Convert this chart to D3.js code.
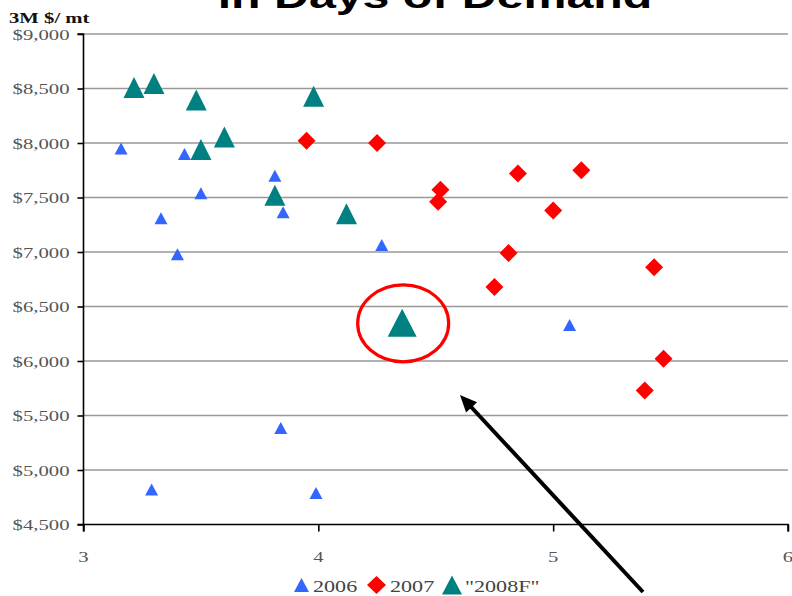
<!DOCTYPE html>
<html>
<head>
<meta charset="utf-8">
<script src="https://cdn.jsdelivr.net/npm/d3@7"></script>
<style>
  html, body { margin: 0; padding: 0; background: #fff; }
  svg { display: block; }
</style>
</head>
<body>
<svg id="chart" width="792" height="596"></svg>
<script>
// ---- Data ----
const x2006 = [3.16, 3.33, 3.40, 3.43, 3.50, 3.815, 3.85, 4.27, 5.07, 3.29, 3.84, 3.99];
const y2006 = [7950, 7310, 6980, 7900, 7540, 7700, 7365, 7065, 6330, 4820, 5385, 4790];
const x2007 = [3.95, 4.25, 4.52, 4.51, 4.85, 5.12, 5.00, 4.81, 4.75, 5.43, 5.47, 5.39];
const y2007 = [8020, 8000, 7570, 7460, 7720, 7750, 7380, 6990, 6680, 6860, 6020, 5730];
const x2008 = [3.215, 3.30, 3.48, 3.98, 3.50, 3.60, 3.815, 4.12, 4.357];
const y2008 = [8510, 8545, 8395, 8430, 7940, 8055, 7520, 7350, 6350];
const highlight2008 = [false, false, false, false, false, false, false, false, true];
const xTicks = [3, 4, 5, 6];
const yTicks = [4500, 5000, 5500, 6000, 6500, 7000, 7500, 8000, 8500, 9000];
const seriesNames = ["2006", "2007", "\"2008F\""];
const titleText = "in Days of Demand";
const yTitle = "3M $/ mt";

// ---- Layout ----
const svg = d3.select("#chart");
const X0 = 83.5, X1 = 788, Y0 = 524.5, Y1 = 34;
const SX = 1.38; // horizontal text stretch as in the reference
const x = d3.scaleLinear().domain([3, 6]).range([X0, X1]);
const y = d3.scaleLinear().domain([4500, 9000]).range([Y0, Y1]);
const serif = "'Liberation Serif','Times New Roman',serif";
const sans = "'Liberation Sans',Arial,sans-serif";

// Title (cut off at top, as in the reference)
svg.append("text")
  .attr("transform", `translate(435,8) scale(${SX},1)`)
  .attr("text-anchor", "middle")
  .attr("font-family", sans).attr("font-weight", "bold")
  .attr("font-size", 35).attr("fill", "#000")
  .text(titleText);

// Gridlines
svg.append("g").selectAll("line").data(yTicks.filter(d => d > 4500)).join("line")
  .attr("x1", X0).attr("x2", X1)
  .attr("y1", d => y(d)).attr("y2", d => y(d))
  .attr("stroke", "#999").attr("stroke-width", 1.6);

// Axes
const yAxis = d3.axisLeft(y).tickValues(yTicks).tickSize(6).tickFormat("");
const gy = svg.append("g").attr("transform", `translate(${X0},0)`).call(yAxis);
const xAxis = d3.axisBottom(x).tickValues(xTicks).tickSize(7).tickFormat("");
const gx = svg.append("g").attr("transform", `translate(0,${Y0})`).call(xAxis);
[gy, gx].forEach(g => {
  g.select(".domain").attr("stroke", "#000").attr("stroke-width", 1.6);
  g.selectAll(".tick line").attr("stroke", "#000").attr("stroke-width", 1.6);
});
gx.select(".domain").attr("d", `M${X0},7V0H${X1}V7`);
gy.select(".domain").attr("d", `M-6,${Y0}H0V${Y1}H-6`);

// Tick labels
const fmt = d3.format("$,");
svg.append("g").selectAll("text").data(yTicks).join("text")
  .attr("transform", d => `translate(69.5,${y(d) + 5.5}) scale(${SX},1)`)
  .attr("text-anchor", "end")
  .attr("font-family", serif).attr("font-size", 15).attr("fill", "#555")
  .text(d => fmt(d));
svg.append("g").selectAll("text").data(xTicks).join("text")
  .attr("transform", d => `translate(${x(d)},562) scale(${SX},1)`)
  .attr("text-anchor", "middle")
  .attr("font-family", serif).attr("font-size", 15).attr("fill", "#555")
  .text(d => d);

// Y title
svg.append("text")
  .attr("transform", `translate(9,23) scale(${SX},1)`)
  .attr("font-family", serif).attr("font-weight", "bold")
  .attr("font-size", 15).attr("fill", "#111")
  .text(yTitle);

// Marker shapes
const tri = (w, h) => `M0,${-h / 2}L${w / 2},${h / 2}L${-w / 2},${h / 2}Z`;
const dia = (w, h) => `M0,${-h / 2}L${w / 2},0L0,${h / 2}L${-w / 2},0Z`;

// 2006
svg.append("g").selectAll("path").data(d3.range(x2006.length)).join("path")
  .attr("transform", i => `translate(${x(x2006[i])},${y(y2006[i])})`)
  .attr("d", tri(13, 12)).attr("fill", "#3366ff");
// 2007
svg.append("g").selectAll("path").data(d3.range(x2007.length)).join("path")
  .attr("transform", i => `translate(${x(x2007[i])},${y(y2007[i])})`)
  .attr("d", dia(18, 18)).attr("fill", "#ff0000");
// 2008F
svg.append("g").selectAll("path").data(d3.range(x2008.length)).join("path")
  .attr("transform", i => `translate(${x(x2008[i])},${y(y2008[i])})`)
  .attr("d", i => highlight2008[i] ? tri(29, 28) : tri(21, 21))
  .attr("fill", "#008080");

// Red circle around highlight
const hi = highlight2008.indexOf(true);
svg.append("ellipse")
  .attr("cx", x(x2008[hi]) + 1).attr("cy", y(y2008[hi]) + 0.5)
  .attr("rx", 45.5).attr("ry", 38.5)
  .attr("fill", "none").attr("stroke", "#ff0000").attr("stroke-width", 3.2);

// Arrow (annotation)
const ax0 = 643, ay0 = 592, ax1 = 460, ay1 = 395;
const len = Math.hypot(ax1 - ax0, ay1 - ay0);
const ux = (ax1 - ax0) / len, uy = (ay1 - ay0) / len;
const headL = 17, headW = 7.5;
const bx = ax1 - headL * ux, by = ay1 - headL * uy;
svg.append("line")
  .attr("x1", ax0).attr("y1", ay0).attr("x2", bx + 3 * ux).attr("y2", by + 3 * uy)
  .attr("stroke", "#000").attr("stroke-width", 4);
svg.append("path")
  .attr("d", `M${ax1},${ay1}L${bx - headW * uy},${by + headW * ux}L${bx + headW * uy},${by - headW * ux}Z`)
  .attr("fill", "#000");

// Legend
const lg = svg.append("g");
const legendItems = [
  { shape: tri(15, 14), color: "#3366ff", mx: 301.5, tx: 313 },
  { shape: dia(19, 18), color: "#ff0000", mx: 376.5, tx: 390 },
  { shape: tri(20, 19), color: "#008080", mx: 452, tx: 465 }
];
legendItems.forEach((it, i) => {
  lg.append("path").attr("transform", `translate(${it.mx},585)`)
    .attr("d", it.shape).attr("fill", it.color);
  lg.append("text").attr("transform", `translate(${it.tx},592) scale(1.3,1)`)
    .attr("font-family", serif).attr("font-size", 17).attr("fill", "#444")
    .text(seriesNames[i]);
});
</script>
</body>
</html>
